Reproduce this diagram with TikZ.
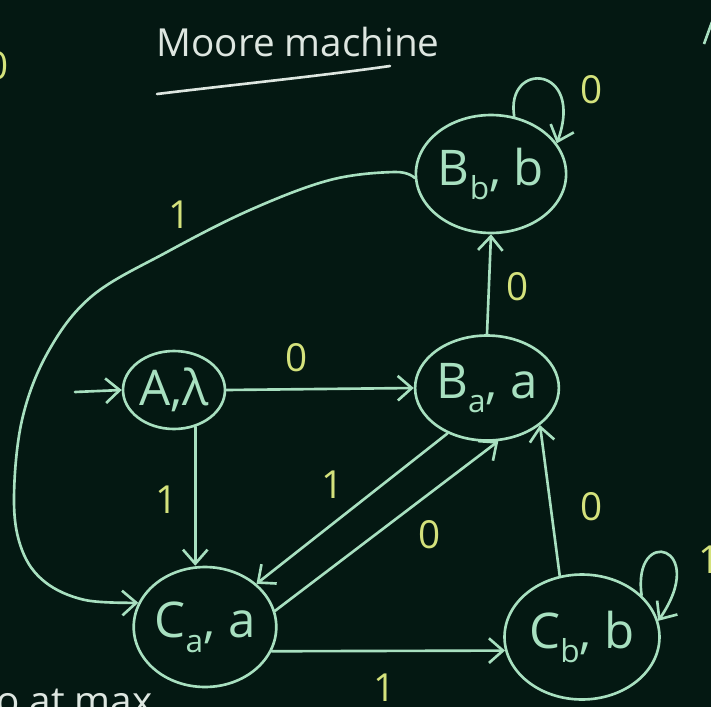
\documentclass[tikz,border=0pt]{standalone}
\usepackage{fontspec}
\setmainfont{Open Sans}
\usetikzlibrary{shapes.geometric,arrows.meta}
\definecolor{bg}{HTML}{041812}
\definecolor{ln}{HTML}{A8E0C0}
\definecolor{lab}{HTML}{D4E27C}
\definecolor{ttl}{HTML}{DDE6E0}
\newcommand{\sbs}[1]{\raisebox{-0.3em}{\fontsize{18}{18}\selectfont #1}}
\tikzset{
 stt/.style={draw=ln, line width=1.5pt, ellipse, inner sep=0pt, text=ln, font=\fontsize{28}{30}\selectfont},
 tr/.style={draw=ln, line width=1.5pt, line cap=round, -{Straight Barb[length=8pt,width=14pt]}},
 lbl/.style={text=lab, font=\fontsize{22}{24}\selectfont},
 note/.style={text=ttl, font=\fontsize{22}{24}\selectfont}
}
\begin{document}
\begin{tikzpicture}[x=0.02cm,y=-0.02cm]
\fill[bg] (0,0) rectangle (711,707);
\useasboundingbox (0,0) rectangle (711,707);
\clip (0,0) rectangle (711,707);

% title
\node[note] (title) at (298,42) {Moore machine};
\draw[ttl, line width=1.5pt, line cap=round] (157,94) .. controls (240,84) and (320,76) .. (390,66);

% margin fragments
\node[lbl, anchor=center] (m1) at (-2,66) {0};
\node[lbl] (m2) at (710,560) {1};
\node[note, anchor=base west] (m3) at (-10,714) {o at max};
\draw[ln, line width=1.5pt] (712,22) -- (704,44);

% states
\node[stt, minimum width=2.04cm, minimum height=1.56cm] (A) at (174,390) {A,λ};
\node[stt, minimum width=2.66cm, minimum height=2.1cm] (Ba) at (487,388) {B\sbs{a}, a};
\node[stt, minimum width=2.96cm, minimum height=2.36cm] (Bb) at (491,174) {B\sbs{b}, b};
\node[stt, minimum width=2.68cm, minimum height=2.4cm] (Ca) at (205,627) {C\sbs{a}, a};
\node[stt, minimum width=3.1cm, minimum height=2.5cm] (Cb) at (582,637) {C\sbs{b}, b};

% start
\coordinate (s) at (75,392);
\draw[tr] (s) -- (A.west);

% transitions
\draw[tr] (A.east) -- (Ba.west);
\draw[tr] (A.300) -- (A.300 |- Ca.north);
\draw[tr] (Ba.north) -- (Bb.south);
\draw[tr] (Bb.68) .. controls (505,60) and (585,65) .. (Bb.25);
\draw[tr] plot[smooth, tension=0.6] coordinates {(Bb.183) (395,172) (330,180) (250,210) (167,252) (92,296) (48,352) (22,420) (14,500) (22,550) (45,582) (85,600) (Ca.160)};
\draw[tr] (Ba.229) -- (Ca.40);
\draw[tr] (Ca.13) -- (Ba.282);
\draw[tr] (Cb.110) -- (Ba.325);
\draw[tr] (Ca.-20) -- (Cb.190);
\draw[tr] (Cb.35) .. controls (632,525) and (710,545) .. (Cb.12);

% labels
\node[lbl] (l1) at (297,358) {0};
\node[lbl] (l2) at (167,500) {1};
\node[lbl] (l3) at (518,287) {0};
\node[lbl] (l4) at (592,90) {0};
\node[lbl] (l5) at (180,215) {1};
\node[lbl] (l6) at (333,485) {1};
\node[lbl] (l7) at (430,535) {0};
\node[lbl] (l8) at (592,507) {0};
\node[lbl] (l9) at (385,688) {1};
\end{tikzpicture}
\end{document}
